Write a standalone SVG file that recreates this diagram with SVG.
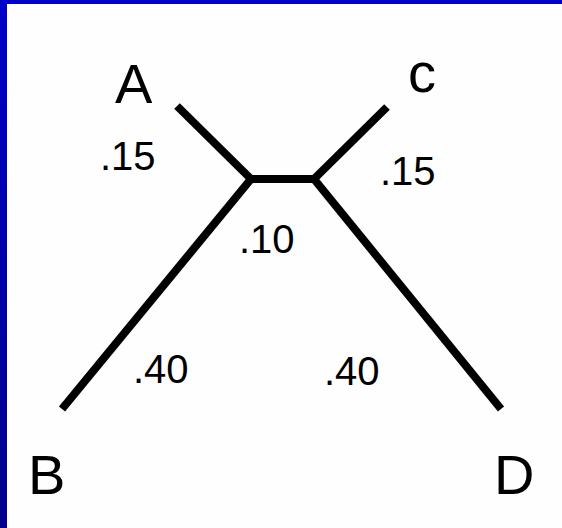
<svg xmlns="http://www.w3.org/2000/svg" width="562" height="528" viewBox="0 0 562 528">
  <defs>
    <linearGradient id="edge" x1="0" y1="0" x2="0" y2="1">
      <stop offset="0" stop-color="#0000C8"/>
      <stop offset="1" stop-color="#00008C"/>
    </linearGradient>
  </defs>
  <style>
    .lbl { font-family: "Liberation Sans", Arial, sans-serif; font-size: 56px; fill: #000; }
    .num { font-family: "Liberation Sans", Arial, sans-serif; font-size: 40px; fill: #000; }
    .edge { stroke: #000; stroke-width: 8; fill: none; stroke-linecap: butt; }
  </style>
  <rect x="0" y="0" width="562" height="528" fill="#FEFEFE"/>
  <rect x="0" y="0" width="562" height="4" fill="#0000C8"/>
  <rect x="0" y="0" width="7" height="528" fill="url(#edge)"/>

  <g id="connectors">
    <line class="edge" x1="177" y1="106" x2="251" y2="179"/>
    <line class="edge" x1="387" y1="107" x2="314" y2="179"/>
    <line class="edge" x1="247" y1="179" x2="318" y2="179"/>
    <line class="edge" x1="62" y1="409" x2="251" y2="179"/>
    <line class="edge" x1="501" y1="409" x2="314" y2="179"/>
  </g>

  <g id="node-A"><text class="lbl" x="115" y="103">A</text></g>
  <g id="node-C"><text class="lbl" x="408" y="92">c</text></g>
  <g id="node-B"><text class="lbl" x="28" y="494">B</text></g>
  <g id="node-D"><text class="lbl" x="494" y="494">D</text></g>

  <g id="edge-labels">
    <text class="num" x="100" y="170">.15</text>
    <text class="num" x="380" y="185">.15</text>
    <text class="num" x="239" y="253">.10</text>
    <text class="num" x="133" y="383">.40</text>
    <text class="num" x="324" y="385">.40</text>
  </g>
</svg>
